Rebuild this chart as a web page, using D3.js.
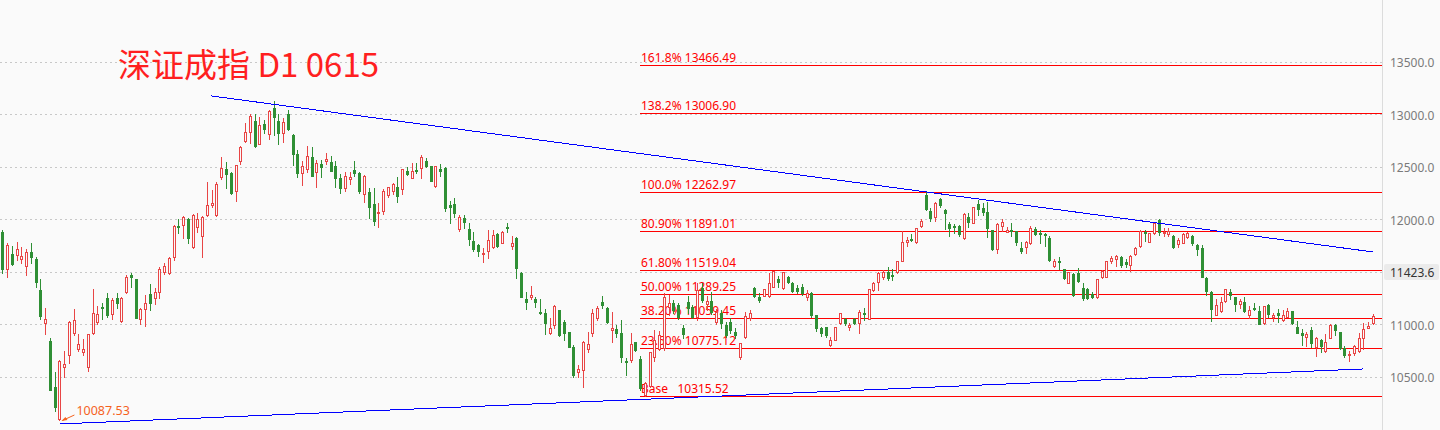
<!DOCTYPE html>
<meta charset="utf-8">
<style>
body { margin: 0; background: #fafafa; }
svg { display: block; }
.axis text { font: 12px "Noto Sans", sans-serif; fill: #7a7a7a; }
</style>
<body>
<svg id="chart" width="1440" height="430"></svg>
<script src="https://d3js.org/d3.v7.min.js"></script>
<script>
// daily candles, [open, high, low, close]
var ohlc = [
  [11878,11898,11488,11526],[11526,11774,11450,11755],[11669,11745,11564,11574],[11659,11783,11612,11717],
  [11621,11736,11583,11650],[11555,11717,11469,11688],[11688,11774,11583,11640],[11621,11640,11355,11402],
  [11326,11431,11050,11078],[11012,11155,10907,11050],[10840,10869,10374,10374],[10402,10545,10174,10212],
  [10095,10660,10087.53,10650],[10593,10745,10497,10621],[10707,11031,10631,11021],[10917,11145,10897,11040],
  [10764,10907,10745,10812],[10736,10859,10707,10764],[10593,10910,10555,10907],[10917,11336,10910,11107],
  [11021,11174,11002,11097],[11164,11202,11050,11155],[11250,11297,11069,11088],[11097,11250,11050,11231],
  [11250,11297,11155,11202],[11031,11255,11025,11250],[11307,11469,11297,11450],[11469,11488,11355,11450],
  [11431,11435,11055,11059],[11050,11150,11002,11145],[11145,11278,10983,11202],[11288,11383,11136,11202],
  [11250,11345,11193,11307],[11307,11545,11250,11526],[11497,11583,11478,11555],[11488,11640,11478,11631],
  [11640,11945,11612,11936],[11936,12002,11869,11926],[11945,12031,11821,12021],[12002,12010,11774,11821],
  [11736,12045,11730,12040],[11926,12059,11878,12002],[11840,12031,11640,12021],[12040,12355,12035,12136],
  [12136,12278,12117,12155],[12040,12355,12035,12336],[12402,12593,12383,12488],[12478,12545,12297,12431],
  [12440,12450,12240,12250],[12269,12520,12174,12517],[12555,12698,12526,12688],[12745,12917,12740,12831],
  [12831,13002,12726,12983],[12936,13002,12688,12698],[12717,12974,12712,12898],[12907,12945,12821,12859],
  [12812,13036,12764,13031],[13060,13126,12802,12974],[12936,13002,12717,12821],[12821,12964,12736,12926],
  [13002,13040,12850,12859],[12802,12807,12517,12621],[12621,12659,12402,12440],[12440,12555,12326,12507],
  [12478,12698,12450,12602],[12593,12688,12408,12412],[12450,12564,12307,12536],[12526,12564,12402,12497],
  [12555,12631,12526,12574],[12545,12602,12455,12459],[12507,12555,12307,12393],[12393,12431,12250,12297],
  [12297,12450,12269,12412],[12383,12450,12336,12402],[12469,12555,12412,12440],[12440,12445,12250,12269],
  [12240,12421,12164,12412],[12259,12297,12012,12117],[12145,12297,11945,11983],[12059,12155,11926,12069],
  [12079,12288,12050,12269],[12231,12310,12212,12307],[12269,12345,12240,12336],[12307,12402,12164,12221],
  [12288,12480,12240,12478],[12459,12497,12421,12431],[12393,12536,12390,12459],[12469,12536,12440,12459],
  [12488,12612,12393,12593],[12555,12583,12497,12507],[12507,12510,12360,12364],[12317,12510,12307,12507],
  [12478,12526,12412,12459],[12488,12497,12079,12107],[12136,12174,11964,12117],[12145,12202,12021,12059],
  [11907,12040,11888,12021],[12012,12040,11917,11974],[11907,11964,11755,11812],[11793,11878,11698,11717],
  [11755,11764,11650,11698],[11669,11726,11593,11678],[11698,11898,11631,11802],[11736,11898,11730,11850],
  [11859,11869,11736,11745],[11774,11888,11770,11878],[11930,11964,11878,11921],[11745,11840,11717,11774],
  [11821,11831,11440,11536],[11488,11497,11255,11259],[11240,11307,11145,11212],[11259,11364,11240,11278],
  [11240,11259,11164,11212],[11117,11240,11100,11107],[11107,11145,10907,11012],[10917,11059,10907,10964],
  [10993,11180,10964,11174],[11136,11140,10890,10897],[11021,11040,10850,10917],[10926,10930,10780,10783],
  [10783,10802,10497,10517],[10545,10612,10497,10574],[10564,10840,10402,10831],[10764,10926,10736,10812],
  [10917,11145,10888,11107],[11059,11174,11040,11155],[11212,11269,11155,11183],[11155,11160,11015,11021],
  [10945,11117,10831,10964],[10955,10993,10878,10917],[10917,11040,10640,10688],[10650,10679,10517,10640],
  [10660,10917,10640,10812],[10831,10835,10745,10755],[10669,10698,10374,10393],[10330,10445,10315.52,10440],
  [10412,10740,10405,10736],[10688,10945,10650,10850],[10764,10935,10755,10897],[10774,11297,10755,11259],
  [11164,11278,11088,11202],[11202,11231,11107,11136],[11183,11200,11050,11069],[10964,10993,10869,10907],
  [11212,11269,11107,11155],[11164,11183,11059,11069],[11069,11393,11040,11326],[11345,11393,11212,11231],
  [11193,11269,11136,11221],[11221,11307,11097,11117],[11021,11145,11002,11117],[11107,11136,10964,11012],
  [10993,11021,10878,10897],[11021,11060,10917,10945],[10926,10964,10869,10897],[10688,10825,10669,10821],
  [10879,11117,10869,11079],[11059,11136,11040,11107],[11345,11350,11260,11269],[11259,11297,11212,11231],
  [11269,11340,11265,11336],[11269,11488,11259,11393],[11355,11510,11350,11507],[11431,11459,11355,11402],
  [11345,11500,11340,11497],[11450,11460,11395,11402],[11393,11400,11310,11317],[11345,11374,11297,11317],
  [11355,11380,11278,11297],[11259,11326,11231,11297],[11297,11307,11069,11088],[11088,11090,10935,10964],
  [10964,10970,10890,10917],[10974,10974,10879,10897],[10802,10879,10793,10850],[10850,10978,10845,10974],
  [11012,11110,11005,11107],[11050,11059,10993,11012],[10974,11012,10945,10993],[11050,11055,11005,11012],
  [11012,11136,10917,11117],[11107,11155,11040,11097],[11050,11340,11045,11336],[11326,11398,11320,11393],
  [11402,11497,11326,11488],[11450,11517,11431,11497],[11497,11545,11421,11440],[11469,11526,11421,11459],
  [11497,11605,11488,11602],[11602,11888,11598,11783],[11783,11831,11745,11802],[11812,11859,11793,11802],
  [11783,11920,11774,11917],[11936,12002,11930,11983],[12231,12262.97,12088,12097],[12079,12107,11983,12012],
  [12021,12160,11983,12155],[12193,12202,12117,12136],[12088,12098,11907,12059],[11955,11974,11840,11917],
  [11936,11955,11869,11926],[11936,11945,11840,11859],[11821,12055,11815,12050],[12021,12059,11926,11974],
  [11964,12120,11960,12117],[12145,12183,12040,12098],[12107,12155,12040,12069],[12069,12164,11831,11917],
  [11898,11900,11710,11717],[11717,11964,11678,11955],[11936,12002,11888,11974],[11878,11926,11875,11898],
  [11898,11964,11840,11888],[11888,11890,11755,11783],[11726,11783,11678,11698],[11736,11793,11678,11783],
  [11774,11936,11764,11917],[11907,11926,11850,11859],[11869,11898,11774,11859],[11859,11869,11745,11850],
  [11821,11840,11605,11612],[11555,11621,11545,11602],[11602,11640,11526,11593],[11526,11530,11430,11440],
  [11393,11500,11390,11497],[11478,11488,11269,11278],[11488,11536,11402,11412],[11345,11393,11231,11250],
  [11336,11345,11240,11250],[11288,11307,11250,11259],[11259,11435,11250,11431],[11450,11517,11440,11507],
  [11450,11605,11445,11602],[11602,11650,11583,11631],[11621,11659,11555,11650],[11640,11650,11545,11564],
  [11588,11621,11545,11578],[11564,11659,11507,11650],[11669,11736,11659,11726],[11745,11898,11740,11888],
  [11878,11898,11793,11869],[11783,11872,11780,11869],[11869,11974,11860,11964],[11993,11998,11850,11878],
  [11869,11917,11840,11878],[11860,11917,11840,11888],[11840,11845,11726,11736],[11764,11821,11736,11802],
  [11774,11865,11770,11859],[11831,11878,11821,11869],[11840,11845,11755,11774],[11755,11760,11659,11717],
  [11726,11755,11445,11450],[11440,11450,11278,11317],[11307,11317,11031,11145],[11088,11240,11085,11183],
  [11126,11259,11120,11212],[11221,11340,11215,11336],[11307,11336,11240,11278],[11259,11262,11126,11193],
  [11193,11240,11155,11221],[11212,11259,11120,11126],[11088,11174,11059,11136],[11155,11202,11136,11145],
  [11126,11174,10998,11002],[11012,11178,11005,11174],[11183,11188,11069,11097],[11069,11107,11031,11088],
  [11107,11145,11021,11088],[11040,11136,11031,11088],[11069,11155,11065,11126],[11126,11130,11002,11012],
  [10974,11031,10912,10917],[10917,10955,10802,10897],[10878,10926,10793,10907],[10945,10974,10783,10821],
  [10783,10875,10697,10869],[10850,10855,10736,10793],[10745,10907,10736,10831],[10869,11000,10865,10993],
  [10993,10998,10897,10945],[10926,10930,10764,10774],[10774,10793,10688,10707],[10707,10745,10650,10717],
  [10726,10798,10707,10793],[10745,10917,10740,10869],[10869,11012,10764,10955],[10964,11021,10960,10983],
  [11012,11097,11002,11078]
];

var priceTicks = [10500, 11000, 11500, 12000, 12500, 13000, 13500];
var fibNames = ["161.8%", "138.2%", "100.0%", "80.90%", "61.80%", "50.00%", "38.20%", "23.60%", "Base  "];
var fibValues = [13466.49, 13006.90, 12262.97, 11891.01, 11519.04, 11289.25, 11059.45, 10775.12, 10315.52];
var fibStart = 134;                        // candle index where the fib lines begin
var upperTrend = [[43.9, 13174], [288, 11688]];   // [candle index, price]
var lowerTrend = [[12.1, 10050], [286, 10574]];
var lowMark = [12, 10087.53];
var lastPrice = "11423.6";
var title = "深证成指 D1 0615";

var W = 1440, H = 430, plotRight = 1382;
var red = "#e84545", green = "#2f8f35", bg = "#fafafa";

var svg = d3.select("#chart");
var x = d3.scaleLinear().domain([0, ohlc.length - 1]).range([2.3, 1373]);
var y = d3.scaleLinear().domain([10500, 13500]).range([376.7, 61.7]);
var px = function (v) { return Math.round(v) + 0.5; };

svg.append("rect").attr("width", W).attr("height", H).attr("fill", bg);

// dotted grid
svg.append("g").selectAll("line").data(priceTicks).enter().append("line")
  .attr("x1", 0).attr("x2", plotRight)
  .attr("y1", function (d) { return px(y(d)); }).attr("y2", function (d) { return px(y(d)); })
  .attr("stroke", "#c8c8c8").attr("stroke-dasharray", "2,3");

// right axis
svg.append("line").attr("x1", plotRight + 0.5).attr("x2", plotRight + 0.5)
  .attr("y1", 0).attr("y2", H).attr("stroke", "#dcdcdc");
var axis = svg.append("g").attr("class", "axis")
  .attr("transform", "translate(" + plotRight + ",1)")
  .call(d3.axisRight(y).tickValues(priceTicks).tickFormat(d3.format(".1f")).tickSize(0).tickPadding(8));
axis.select(".domain").remove();

// fibonacci levels
var fib = svg.append("g");
fib.selectAll("line").data(fibValues).enter().append("line")
  .attr("x1", Math.round(x(fibStart))).attr("x2", plotRight)
  .attr("y1", function (d) { return px(y(d)); }).attr("y2", function (d) { return px(y(d)); })
  .attr("stroke", "#ff0000");

// candles
var cg = svg.append("g");
ohlc.forEach(function (d, i) {
  var n = Math.round(x(i)), up = d[3] >= d[0], col = up ? red : green;
  cg.append("line").attr("x1", n + 0.5).attr("x2", n + 0.5)
    .attr("y1", Math.round(y(d[1]))).attr("y2", Math.round(y(d[2])) + 1)
    .attr("stroke", col);
  var top = Math.round(y(Math.max(d[0], d[3]))), bot = Math.round(y(Math.min(d[0], d[3])));
  if (up) {
    cg.append("rect").attr("x", n - 0.5).attr("width", 2)
      .attr("y", top + 0.5).attr("height", Math.max(bot - top, 1))
      .attr("fill", bg).attr("stroke", col);
  } else {
    cg.append("rect").attr("x", n - 1).attr("width", 3)
      .attr("y", top).attr("height", Math.max(bot - top, 1) + 1)
      .attr("fill", col);
  }
});

// fib labels on top of candles
fib.selectAll("text").data(fibValues).enter().append("text")
  .attr("x", Math.round(x(fibStart)) + 1)
  .attr("y", function (d) { return Math.round(y(d)) - 3; })
  .attr("fill", "#ff0000").style("font", "12px 'Noto Sans', sans-serif")
  .style("white-space", "pre")
  .text(function (d, i) { return fibNames[i] + " " + d3.format(".2f")(d); });

// trend lines
[upperTrend, lowerTrend].forEach(function (t) {
  svg.append("line")
    .attr("x1", x(t[0][0])).attr("y1", y(t[0][1]))
    .attr("x2", x(t[1][0])).attr("y2", y(t[1][1]))
    .attr("stroke", "#0000ff").attr("shape-rendering", "crispEdges");
});

// low marker
var lx = x(lowMark[0]), ly = y(lowMark[1]);
svg.append("path")
  .attr("d", "M" + (lx + 3) + "," + (ly + 0.5) + "L" + (lx + 15) + "," + (ly - 5))
  .attr("stroke", "#f5621e").attr("fill", "none");
svg.append("path")
  .attr("d", "M" + (lx + 2) + "," + (ly + 1) + "l6,-1l-2,-3z")
  .attr("fill", "#f5621e");
svg.append("text").attr("x", lx + 17).attr("y", ly - 5)
  .attr("fill", "#f5621e").style("font", "12.5px 'Noto Sans', sans-serif")
  .text(d3.format(".2f")(lowMark[1]));

// last price box (covers the 11500 tick)
var by = Math.round(y(11500));
svg.append("rect").attr("x", plotRight + 2).attr("y", by - 8).attr("width", 55).attr("height", 16)
  .attr("fill", "#ebebeb").attr("rx", 2);
svg.append("text").attr("x", plotRight + 8).attr("y", by + 5)
  .attr("fill", "#333").style("font", "12px 'Noto Sans', sans-serif")
  .text(lastPrice);

// title
svg.append("text").attr("x", 118).attr("y", 77)
  .attr("fill", "#ff1f1f").style("font", "33px 'Noto Sans CJK SC', 'Noto Sans', sans-serif")
  .text(title);
</script>
</body>
